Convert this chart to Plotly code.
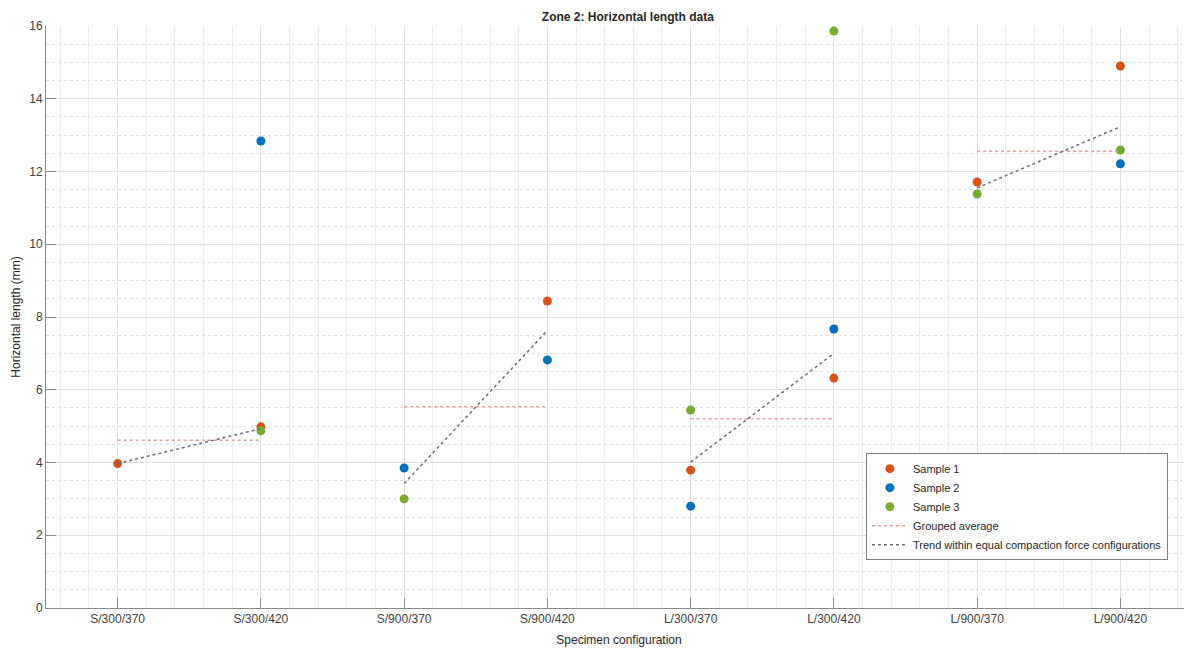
import plotly.graph_objects as go

categories = ["S/300/370", "S/300/420", "S/900/370", "S/900/420",
              "L/300/370", "L/300/420", "L/900/370", "L/900/420"]
sample1 = [3.97, 4.98, None, 8.44, 3.79, 6.32, 11.71, 14.90]
sample2 = [None, 12.84, 3.85, 6.82, 2.80, 7.67, None, 12.21]
sample3 = [None, 4.87, 3.00, None, 5.44, 15.86, 11.38, 12.59]

# one value per pair of configurations (same compaction force)
group_avg = [4.61, 5.53, 5.20, 12.56]
trend_start = [3.97, 3.42, 4.01, 11.55]
trend_end = [4.93, 7.63, 7.00, 13.23]

xi = list(range(len(categories)))

fig = go.Figure()
colors = ["#D95319", "#0072BD", "#77AC30"]
for name, vals, c in zip(["Sample 1", "Sample 2", "Sample 3"],
                         [sample1, sample2, sample3], colors):
    fig.add_trace(go.Scatter(x=xi, y=vals, mode="markers", name=name,
                             marker=dict(color=c, size=9)))

gx, gy, tx, ty = [], [], [], []
for k in range(len(group_avg)):
    a, b = 2 * k, 2 * k + 1
    gx += [a, b, None]
    gy += [group_avg[k], group_avg[k], None]
    tx += [a, b, None]
    ty += [trend_start[k], trend_end[k], None]

fig.add_trace(go.Scatter(x=gx, y=gy, mode="lines", name="Grouped average",
                         line=dict(color="#dba396", width=1.5, dash="dot")))
fig.add_trace(go.Scatter(x=tx, y=ty, mode="lines",
                         name="Trend within equal compaction force configurations",
                         line=dict(color="#6a6b7c", width=1.5, dash="dot")))

fig.update_layout(
    width=1192, height=650,
    margin=dict(l=38, r=8, t=18, b=50, autoexpand=False),
    plot_bgcolor="white", paper_bgcolor="white",
    font=dict(family="Liberation Sans, Arial, sans-serif", size=12, color="#404040"),
    title=dict(text="<b>Zone 2: Horizontal length data</b>", x=0.52, xanchor="center",
               y=0.987, yanchor="middle", font=dict(size=12, color="#262626")),
    legend=dict(x=0.7155, y=0.266, xanchor="left", yanchor="top",
                bgcolor="white", bordercolor="#7f7f7f", borderwidth=1,
                font=dict(size=11, color="#262626"), tracegroupgap=0,
                itemwidth=36),
    showlegend=True,
)
fig.update_xaxes(
    range=[-0.5, 7.5], tickmode="array", tickvals=xi, ticktext=categories,
    showline=True, linecolor="#8a8a8a", linewidth=1,
    ticks="inside", ticklen=10, tickcolor="#8a8a8a",
    showgrid=True, gridcolor="#e0e0e0", gridwidth=1, zeroline=False,
    minor=dict(dtick=0.2, tick0=0, showgrid=True, gridcolor="#ececec",
               griddash="solid", ticks=""),
    title=dict(text="Specimen configuration", standoff=10, font=dict(size=12, color="#262626")),
    tickfont=dict(size=12, color="#404040"),
)
fig.update_yaxes(
    range=[0, 16], dtick=2, tick0=0,
    showline=True, linecolor="#8a8a8a", linewidth=1,
    ticks="inside", ticklen=10, tickcolor="#8a8a8a",
    showgrid=True, gridcolor="#e0e0e0", gridwidth=1, zeroline=False,
    minor=dict(dtick=0.5, tick0=0, showgrid=True, gridcolor="#e2e2e2",
               griddash="dot", ticks=""),
    title=dict(text="Horizontal length (mm)", standoff=6, font=dict(size=12, color="#262626")),
    tickfont=dict(size=12, color="#404040"),
)

fig.write_html("out.html")
